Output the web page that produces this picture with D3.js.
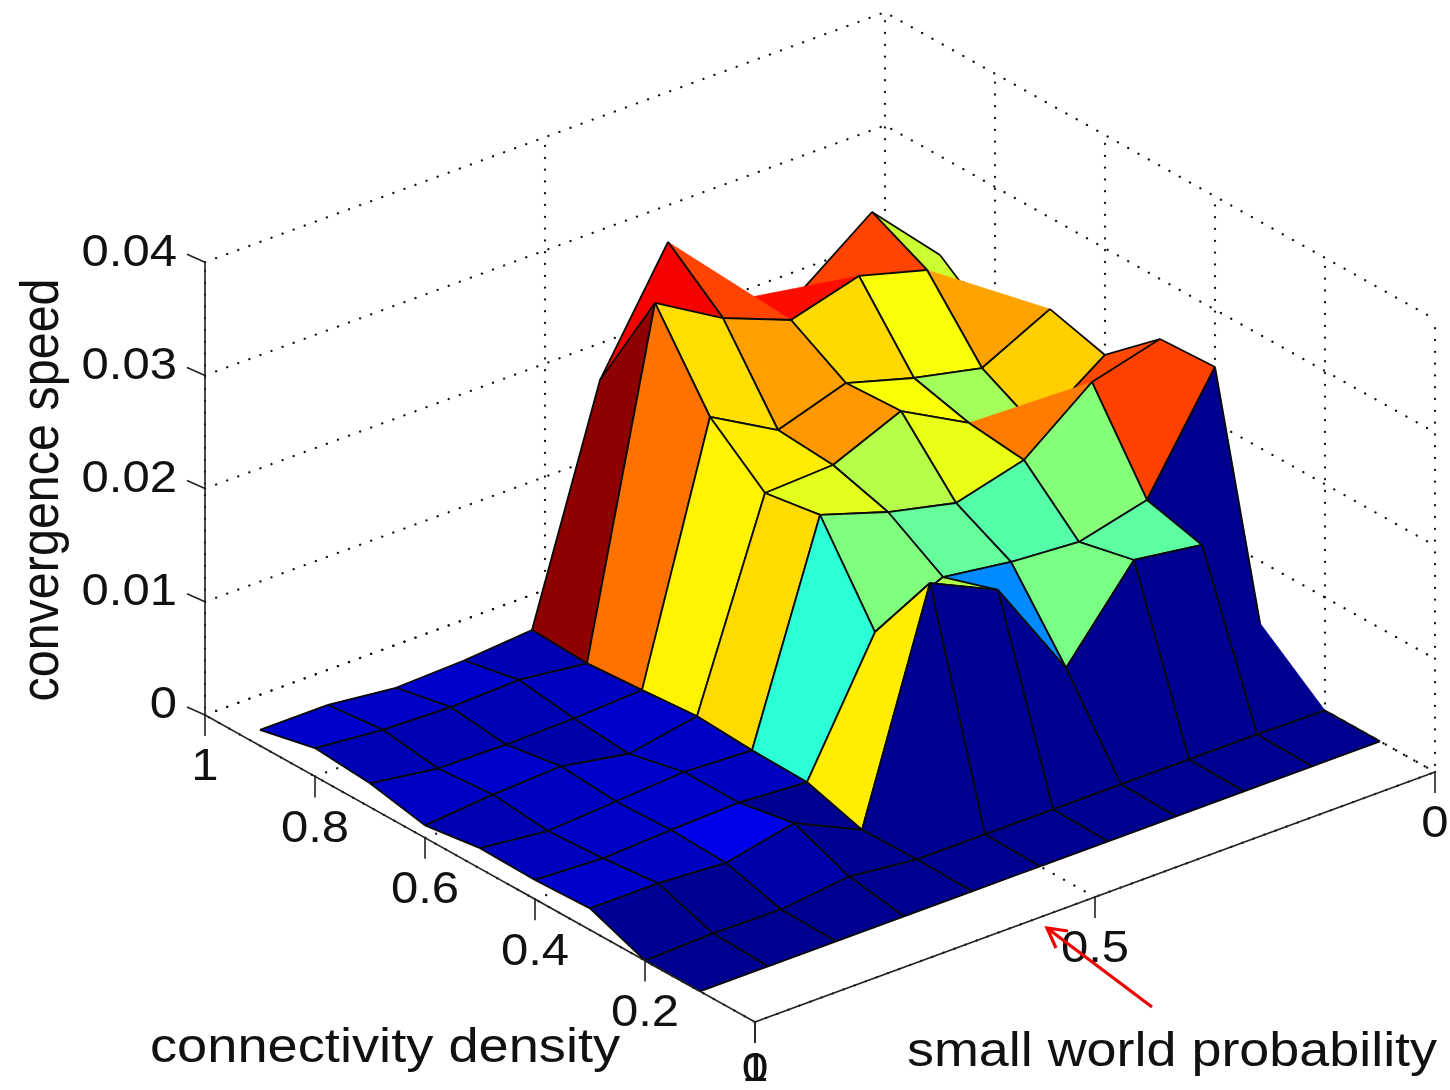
<!DOCTYPE html>
<html>
<head>
<meta charset="utf-8">
<script src="https://cdn.jsdelivr.net/npm/d3@7"></script>
<style>
  html, body { margin: 0; padding: 0; background: #fff; }
  svg { display: block; filter: blur(0.4px); }
  text { font-family: "Liberation Sans", Arial, sans-serif; fill: #111; }
</style>
</head>
<body>
<svg id="chart" width="1450" height="1090"></svg>
<script>
const width = 1450;
const height = 1090;

const densities = [0.1, 0.2, 0.3, 0.4, 0.5, 0.6, 0.7, 0.8, 0.9];
const probabilities = [1, 0.9, 0.8, 0.7, 0.6, 0.5, 0.4, 0.3, 0.2, 0.1, 0];

// convergence speed, one row per density, one column per probability
const speed01 = [0, 0, 0, 0, 0, 0, 0, 0, 0, 0, 0];
const speed02 = [0, 0.0002, 0.0001, 0.0008, 0.0001, 0.0001, 0.0001, 0.0001, 0.0001, 0.0001, 0];
const speed03 = [0.0019, 0.0019, 0.0015, 0.0028, 0, 0.0196, 0.01678, 0.00768, 0.01501, 0.01413, 0];
const speed04 = [0.0017, 0.0014, 0.0017, 0.0019, 0.0015, 0.01256, 0.01521, 0.01433, 0.01389, 0.01539, 0.02493];
const speed05 = [0.0018, 0.0011, 0.0015, 0.0019, 0.0016, 0.02019, 0.01824, 0.01683, 0.01842, 0.0231, 0.02469];
const speed06 = [0.0011, 0.0016, 0.0019, 0.0008, 0.0019, 0.01942, 0.01968, 0.02224, 0.01898, 0.01633, 0.02057];
const speed07 = [0.0021, 0.0012, 0.0011, 0.0012, 0.0015, 0.02342, 0.02006, 0.022, 0.02024, 0.01891, 0.02191];
const speed08 = [0.0025, 0.0019, 0.0017, 0.0019, 0.00115, 0.03078, 0.02724, 0.02486, 0.02654, 0.02486, 0.01753];
const speed09 = [0.00139, 0.00139, 0.0007, 0.0009, 0.00139, 0.02126, 0.03125, 0.02391, 0.02277, 0.02727, 0.02126];
const speed = [speed01, speed02, speed03, speed04, speed05, speed06, speed07, speed08, speed09];

const speedTicks = [0, 0.01, 0.02, 0.03, 0.04];
const speedLabels = ["0", "0.01", "0.02", "0.03", "0.04"];
const densityTicks = [0, 0.2, 0.4, 0.6, 0.8, 1];
const densityLabels = ["0", "0.2", "0.4", "0.6", "0.8", "1"];
const probabilityTicks = [1, 0.5, 0];
const probabilityLabels = ["1", "0.5", "0"];

// Fixed view of the box, matlab style orthographic
const originX = 755;
const originY = 1022;
const densX = d3.scaleLinear().domain([0, 1]).range([0, -550]);
const densY = d3.scaleLinear().domain([0, 1]).range([0, -307]);
const probX = d3.scaleLinear().domain([1, 0]).range([0, 680]);
const probY = d3.scaleLinear().domain([1, 0]).range([0, -250]);
const speedY = d3.scaleLinear().domain([0, 0.04]).range([0, -452.8]);

// jet colormap over the range of the surface
const jet = d3
  .scaleLinear()
  .domain([0, 0.11, 0.36, 0.61, 0.86, 1].map((t) => t * 0.0313))
  .range(["#000090", "#0000ff", "#00ffff", "#ffff00", "#ff0000", "#800000"])
  .clamp(true);

const project = (d, p, z) => [originX + densX(d) + probX(p), originY + densY(d) + probY(p) + speedY(z)];

const svg = d3.select("#chart");
const line = d3.line();

// Back planes and floor, dotted
const gridG = svg.append("g").attr("stroke", "#111").attr("stroke-width", 2.3).attr("stroke-dasharray", "0.1 11.7").attr("stroke-linecap", "round").attr("fill", "none");
const addGrid = (pts) => gridG.append("path").attr("d", line(pts));

speedTicks.forEach((z) => {
  addGrid([project(1, 1, z), project(1, 0, z), project(0, 0, z)]);
});
densityTicks.forEach((d) => {
  addGrid([project(d, 1, 0), project(d, 0, 0), project(d, 0, 0.04)]);
});
probabilityTicks.forEach((p) => {
  // the p = 0 corner line is already there from the density loop
  if (p === 0) addGrid([project(0, p, 0), project(1, p, 0)]);
  else addGrid([project(0, p, 0), project(1, p, 0), project(1, p, 0.04)]);
});

// Surface, painted from the far corner forward
const cells = [];
for (let i = densities.length - 2; i >= 0; i--) {
  for (let j = probabilities.length - 2; j >= 0; j--) {
    const corners = [
      [i, j],
      [i, j + 1],
      [i + 1, j + 1],
      [i + 1, j],
    ].map(([a, b]) => project(densities[a], probabilities[b], speed[a][b]));
    // flat colour comes from the corner nearest the low density, low probability side
    cells.push({ corners, value: speed[i][j + 1] });
  }
}

const surface = svg.append("g").attr("stroke-linejoin", "round");
cells.forEach((cell) => {
  // a folded quad renders as its hull, and the edges inside the fold stay hidden
  const hull = d3.polygonHull(cell.corners);
  const folded = hull.length === 3;
  const shape = folded ? hull : cell.corners;
  surface
    .append("path")
    .attr("d", line(shape) + "Z")
    .attr("fill", jet(cell.value))
    .attr("stroke", jet(cell.value))
    .attr("stroke-width", 0.6);
  cell.corners.forEach((a, k) => {
    const b = cell.corners[(k + 1) % 4];
    if (folded && !(hull.includes(a) && hull.includes(b))) return;
    surface.append("path").attr("d", line([a, b])).attr("stroke", "#0a0a0a").attr("stroke-width", 1.8).attr("fill", "none");
  });
});

// Solid axes
const axes = svg.append("g").attr("stroke", "#222").attr("stroke-width", 1.6).attr("fill", "none");
axes.append("path").attr("d", line([project(1, 1, 0.04), project(1, 1, 0), project(0, 1, 0), project(0, 0, 0)]));
speedTicks.forEach((z) => {
  const [x, y] = project(1, 1, z);
  axes.append("path").attr("d", line([[x, y], [x - 18, y - 8]]));
});
densityTicks.forEach((d) => {
  const [x, y] = project(d, 1, 0);
  axes.append("path").attr("d", line([[x, y], [x, y + 21]]));
});
probabilityTicks.forEach((p) => {
  const [x, y] = project(0, p, 0);
  axes.append("path").attr("d", line([[x, y], [x, y + 21]]));
});

// The original is stretched sideways, so the labels are too
const labels = svg.append("g").attr("font-size", 44);
const addLabel = (x, y, str, anchor, sx, size = 44) =>
  labels
    .append("text")
    .attr("transform", `translate(${x},${y}) scale(${sx},1)`)
    .attr("dy", "0.35em")
    .attr("text-anchor", anchor)
    .attr("font-size", size)
    .text(str);

speedTicks.forEach((z, i) => {
  const [x, y] = project(1, 1, z);
  addLabel(x - 28, y - 12, speedLabels[i], "end", 1.115);
});
densityTicks.forEach((d, i) => {
  const [x, y] = project(d, 1, 0);
  if (d === 0) addLabel(x, y + 45, densityLabels[i], "middle", 1.2, 40);
  else addLabel(x, y + 50, densityLabels[i], "middle", 1.115);
});
probabilityTicks.forEach((p, i) => {
  const [x, y] = project(0, p, 0);
  if (p === 1) addLabel(x, y + 45, probabilityLabels[i], "middle", 1.2, 40);
  else addLabel(x, y + 50, probabilityLabels[i], "middle", 1.115);
});

// Axis titles
labels.append("text").attr("transform", "translate(150,1062) scale(1.13,1)").attr("font-size", 48).text("connectivity density");
labels.append("text").attr("transform", "translate(907,1066) scale(1.123,1)").attr("font-size", 48).text("small world probability");
labels.append("text").attr("transform", "translate(58,490) rotate(-90) scale(1.01,1.13)").attr("text-anchor", "middle").attr("font-size", 48).text("convergence speed");

// Red annotation arrow
svg.append("path")
  .attr("d", "M1152,1007L1047,928M1068,931L1047,928L1056,948")
  .attr("fill", "none")
  .attr("stroke", "#f00000")
  .attr("stroke-width", 3.2);
</script>
</body>
</html>
